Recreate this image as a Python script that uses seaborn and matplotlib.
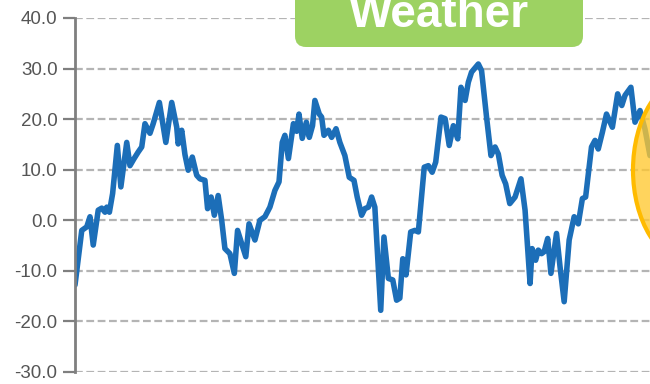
import matplotlib
matplotlib.use("Agg")
import matplotlib.pyplot as plt
import matplotlib.transforms as mtransforms
from matplotlib.patches import FancyBboxPatch, Ellipse
from matplotlib.ticker import FormatStrFormatter
import seaborn as sns
import pandas as pd

# Weekly temperature readings (week number, degrees)
weeks = [0.0, 2.3, 4.0, 5.1, 6.2, 7.9, 9.1, 10.2, 10.8, 11.7, 12.8, 14.4, 15.6, 17.6,
         18.7, 20.1, 21.5, 22.7, 23.8, 25.5, 26.6, 28.7, 30.9, 32.9, 34.6, 35.1, 36.3,
         37.4, 38.5, 39.9, 41.4, 42.5, 44.2, 45.1, 46.3, 47.4, 48.7, 49.9, 51.0, 52.7,
         54.2, 55.3, 56.7, 58.1, 59.2, 61.2, 62.9, 64.6, 66.3, 68.0, 69.4, 70.5, 71.4,
         72.6, 74.3, 75.4, 76.2, 77.3, 78.7, 79.7, 80.8, 81.6, 83.1, 83.9, 84.7, 86.2,
         87.3, 88.8, 90.1, 91.8, 93.3, 94.9, 96.0, 97.5, 98.6, 99.8, 100.9, 102.0,
         104.0, 105.1, 106.6, 108.1, 109.4, 110.5, 111.5, 112.6, 114.2, 115.6, 116.8,
         118.8, 120.2, 121.5, 122.7, 124.5, 125.9, 127.3, 128.7, 130.2, 131.3, 132.7,
         133.8, 134.9, 137.2, 138.3, 140.0, 141.5, 142.9, 144.0, 145.3, 146.5, 147.9,
         149.7, 151.7, 153.1, 154.8, 155.5, 156.7, 157.6, 158.7, 159.6, 160.8, 161.9,
         163.8, 165.0, 166.4, 168.1, 169.8, 171.2, 172.6, 173.7, 175.7, 176.9, 178.0,
         179.4, 180.8, 182.8, 184.6, 186.0, 187.1, 189.1, 190.5, 192.2, 193.9, 195.6]
temps = [-12.8, -2.0, -1.3, 0.7, -4.9, 2.0, 2.4, 1.6, 2.6, 1.6, 5.3, 14.8, 6.6, 15.4,
         10.8, 12.2, 13.5, 14.5, 19.1, 17.2, 19.1, 23.3, 15.4, 23.3, 18.4, 15.1, 17.8,
         13.0, 9.9, 12.5, 8.9, 8.2, 7.9, 2.3, 4.6, 1.0, 4.9, 0.0, -5.6, -6.6,
         -10.5, -2.0, -4.6, -7.2, -0.7, -3.9, 0.0, 0.7, 2.6, 5.9, 7.6, 15.4, 16.8,
         12.2, 19.1, 17.6, 21.0, 16.2, 19.4, 16.4, 18.7, 23.7, 21.0, 20.4, 16.8, 17.8,
         16.4, 18.1, 15.4, 12.8, 8.5, 7.9, 4.6, 1.0, 2.3, 2.6, 4.6, 2.6,
         -17.8, -3.3, -11.5, -11.8, -15.8, -15.4, -7.6, -10.8, -2.3, -2.0, -2.3,
         10.5, 10.8, 9.5, 11.5, 20.4, 20.1, 14.8, 18.7, 16.1, 26.3, 23.7,
         27.3, 29.3, 30.9, 29.6, 20.4, 12.8, 14.5, 13.1, 8.9, 7.2, 3.3,
         4.6, 8.2, 2.0, -12.5, -5.6, -7.9, -5.9, -6.6, -6.2, -3.6, -10.5,
         -2.6, -9.2, -16.1, -3.9, 0.7, -0.7, 4.3, 4.6, 14.5, 15.8, 14.1,
         17.4, 21.0, 18.4, 25.0, 22.7, 24.7, 26.3, 19.4, 21.7, 18.0, 12.8]

y_ticks = [-30, -20, -10, 0, 10, 20, 30, 40]
title = "Weather"

sns.set_style("white")
plt.rcParams["font.family"] = ["Liberation Sans", "DejaVu Sans"]

df = pd.DataFrame({"week": weeks, "temp": temps})

W, H = 650, 384
fig = plt.figure(figsize=(W / 100, H / 100), dpi=100)
ax = fig.add_axes([75 / W, 12 / H, 1 - 75 / W, 354 / H])

sns.lineplot(data=df, x="week", y="temp", ax=ax, color="#1c6eb8",
             linewidth=4.0, solid_joinstyle="round", solid_capstyle="round")

ax.set_xlim(0, 195.6)
ax.set_ylim(-30, 40)
ax.set_yticks(y_ticks)
ax.yaxis.set_major_formatter(FormatStrFormatter("%.1f"))
ax.set_xticks([])
ax.set_xlabel("")
ax.set_ylabel("")

ax.set_axisbelow(True)
ax.grid(axis="y", color="#b4b4b4", linewidth=1.6, linestyle=(0, (3.5, 1.6)))
ax.grid(axis="x", visible=False)

for side in ("top", "right", "bottom"):
    ax.spines[side].set_visible(False)
ax.spines["left"].set_color("#7f7f7f")
ax.spines["left"].set_linewidth(2.0)

ax.tick_params(axis="y", which="major", left=True, length=8.6, width=1.6,
               color="#7f7f7f", labelcolor="#555555", labelsize=13.5, pad=4)

# Highlight marker at the right edge
centre = (691 / W, 1 - 170 / H)
hl = Ellipse(centre, 116 / W, 186 / H, transform=fig.transFigure,
             facecolor="#ffc830", alpha=0.78, edgecolor="none", clip_on=False)
fig.add_artist(hl)
hl_edge = Ellipse(centre, 116 / W, 186 / H, transform=fig.transFigure,
                  facecolor="none", edgecolor="#ffbb00", linewidth=3.0, clip_on=False)
fig.add_artist(hl_edge)

# Title banner
banner = FancyBboxPatch((295, H - 47), 288, 80,
                        boxstyle="round,pad=0,rounding_size=11",
                        transform=mtransforms.IdentityTransform(),
                        facecolor="#9dd262", edgecolor="none", clip_on=False)
fig.add_artist(banner)
fig.text(439 / W, 1 - 27 / H, title, ha="center", va="baseline",
         fontsize=33, fontweight="bold", color="white")

fig.savefig("out.png", dpi=100)
